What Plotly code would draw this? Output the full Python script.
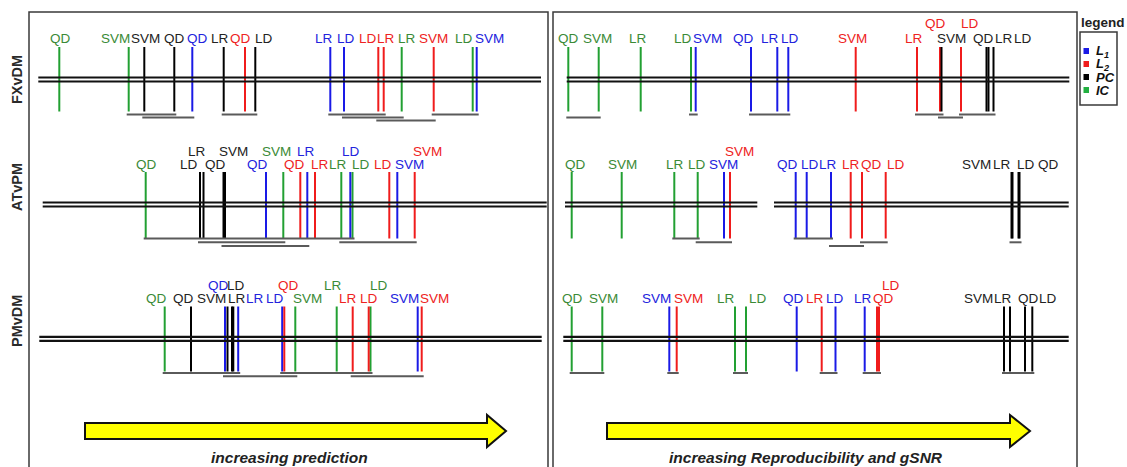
import plotly.graph_objects as go

# ---------------- DATA ----------------
# Each panel: method names, classifier family, score position on the axis,
# label anchor position, label tier (0 = lower row, 1 = upper row),
# and groups of methods that are not significantly different (start idx, end idx, tier).

FX_PRED_METHOD = ["QD", "SVM", "SVM", "QD", "QD", "LR", "QD", "LD", "LR", "LD", "LD", "LR", "LR", "SVM", "LD", "SVM"]
FX_PRED_CLASS = ["IC", "IC", "PC", "PC", "L1", "PC", "L2", "PC", "L1", "L1", "L2", "L2", "IC", "L2", "IC", "L1"]
FX_PRED_SCORE = [59.3, 128.7, 144.3, 174.3, 192.3, 223.7, 245.0, 255.3, 330.3, 344.0, 378.3, 383.7, 401.7, 433.7, 472.7, 476.7]
FX_PRED_LABEL = [60.0, 115.0, 145.7, 174.3, 197.5, 219.8, 240.5, 263.7, 323.8, 345.5, 368.3, 386.2, 407.2, 433.5, 463.8, 489.2]
FX_PRED_TIER = [0] * 16
FX_PRED_GROUPS = [(1, 3, 0), (2, 4, 1), (5, 7, 0), (8, 11, 0), (9, 12, 1), (10, 13, 2), (13, 15, 0)]

FX_REPR_METHOD = ["QD", "SVM", "LR", "LD", "SVM", "QD", "LR", "LD", "SVM", "LR", "QD", "SVM", "LD", "QD", "LR", "LD"]
FX_REPR_CLASS = ["IC", "IC", "IC", "IC", "L1", "L1", "L1", "L1", "L2", "L2", "L2", "PC", "L2", "PC", "PC", "PC"]
FX_REPR_SCORE = [568.3, 598.7, 640.7, 691.0, 695.7, 751.0, 777.3, 788.3, 855.7, 917.0, 940.0, 941.5, 961.0, 986.5, 988.5, 993.5]
FX_REPR_LABEL = [568.3, 597.5, 638.0, 683.0, 707.5, 743.5, 770.0, 790.3, 852.8, 913.5, 935.5, 951.3, 970.0, 983.3, 1003.7, 1023.3]
FX_REPR_TIER = [0, 0, 0, 0, 0, 0, 0, 0, 0, 0, 1, 0, 1, 0, 0, 0]
FX_REPR_GROUPS = [(0, 1, 1), (3, 4, 0), (5, 7, 0), (9, 11, 0), (10, 12, 1), (12, 15, 0)]

AT_PRED_METHOD = ["QD", "LD", "LR", "QD", "SVM", "QD", "SVM", "QD", "LR", "LR", "LR", "LD", "LD", "LD", "SVM", "SVM"]
AT_PRED_CLASS = ["IC", "PC", "PC", "PC", "PC", "L1", "IC", "L2", "L1", "L2", "IC", "L1", "IC", "L2", "L1", "L2"]
AT_PRED_SCORE = [145.7, 200.0, 203.5, 223.5, 225.0, 266.0, 283.3, 300.3, 307.3, 315.0, 341.3, 350.3, 352.5, 389.3, 397.3, 414.7]
AT_PRED_LABEL = [146.2, 189.2, 196.7, 215.5, 233.3, 257.8, 276.2, 294.5, 306.3, 319.5, 338.0, 350.5, 360.7, 382.5, 409.2, 427.5]
AT_PRED_TIER = [0, 0, 1, 0, 1, 0, 1, 0, 1, 0, 0, 1, 0, 0, 0, 1]
AT_PRED_GROUPS = [(0, 12, 0), (1, 6, 1), (3, 8, 2), (10, 15, 1)]

AT_REPR_METHOD = ["QD", "SVM", "LR", "LD", "SVM", "SVM", "QD", "LD", "LR", "LR", "QD", "LD", "SVM", "LR", "LD", "QD"]
AT_REPR_CLASS = ["IC", "IC", "IC", "IC", "L1", "L2", "L1", "L1", "L1", "L2", "L2", "L2", "PC", "PC", "PC", "PC"]
AT_REPR_SCORE = [571.7, 621.7, 674.3, 697.7, 724.0, 730.0, 795.7, 806.7, 831.0, 850.7, 862.0, 885.7, 1011.5, 1012.5, 1018.5, 1019.5]
AT_REPR_LABEL = [575.0, 622.2, 675.3, 696.7, 723.3, 739.5, 787.8, 810.3, 828.3, 851.0, 871.2, 895.5, 976.3, 1001.7, 1026.3, 1048.3]
AT_REPR_TIER = [0, 0, 0, 0, 0, 1, 0, 0, 0, 0, 0, 0, 0, 0, 0, 0]
AT_REPR_GROUPS = [(2, 3, 0), (3, 5, 1), (6, 8, 0), (8, 10, 2), (10, 11, 1), (12, 15, 1)]

PM_PRED_METHOD = ["QD", "QD", "QD", "SVM", "LR", "LD", "LR", "LD", "QD", "SVM", "LR", "LR", "LD", "LD", "SVM", "SVM"]
PM_PRED_CLASS = ["IC", "PC", "L1", "PC", "PC", "PC", "L1", "L1", "L2", "IC", "IC", "L2", "L2", "IC", "L1", "L2"]
PM_PRED_SCORE = [164.7, 191.0, 225.0, 227.5, 232.0, 233.3, 238.2, 282.2, 284.3, 295.3, 336.7, 352.7, 368.7, 370.5, 417.7, 421.7]
PM_PRED_LABEL = [156.2, 183.0, 218.0, 211.2, 237.0, 236.0, 254.5, 274.7, 288.8, 307.2, 333.3, 347.5, 368.7, 378.7, 404.2, 434.2]
PM_PRED_TIER = [0, 0, 1, 0, 0, 1, 0, 0, 1, 0, 1, 0, 0, 1, 0, 0]
PM_PRED_GROUPS = [(0, 6, 0), (2, 9, 1), (7, 13, 0), (11, 15, 1)]

PM_REPR_METHOD = ["QD", "SVM", "SVM", "SVM", "LR", "LD", "QD", "LR", "LD", "LR", "QD", "LD", "SVM", "LR", "QD", "LD"]
PM_REPR_CLASS = ["IC", "IC", "L1", "L2", "IC", "IC", "L1", "L2", "L1", "L1", "L2", "L2", "PC", "PC", "PC", "PC"]
PM_REPR_SCORE = [571.7, 602.3, 669.3, 676.7, 735.0, 746.0, 796.7, 821.7, 835.5, 864.7, 877.0, 879.0, 1004.0, 1010.0, 1025.0, 1032.3]
PM_REPR_LABEL = [572.2, 603.2, 656.3, 688.8, 725.8, 758.3, 793.0, 815.0, 834.5, 863.3, 883.0, 891.2, 978.3, 1003.3, 1028.0, 1048.0]
PM_REPR_TIER = [0, 0, 0, 0, 0, 0, 0, 0, 0, 0, 0, 1, 0, 0, 0, 0]
PM_REPR_GROUPS = [(0, 1, 0), (2, 3, 0), (4, 5, 0), (7, 8, 0), (9, 11, 0), (12, 15, 0)]

ROW_NAMES = ["FXvDM", "ATvPM", "PMvDM"]
PANEL_TITLES = ["increasing prediction", "increasing Reproducibility and gSNR"]
LEGEND_CLASSES = ["L1", "L2", "PC", "IC"]
LEGEND_TEXT = ["<b><i>L</i></b><sub><b><i>1</i></b></sub>", "<b><i>L</i></b><sub><b><i>2</i></b></sub>",
               "<b><i>PC</i></b>", "<b><i>IC</i></b>"]

# ---------------- STYLE / LAYOUT ----------------
W, H = 1127, 467
LINE_COL = {"L1": "#1a1ae6", "L2": "#f01c1c", "PC": "#000000", "IC": "#22a032"}
TEXT_COL = {"L1": "#2222dd", "L2": "#ee2222", "PC": "#222222", "IC": "#3a8a36"}
FONT = "Liberation Sans, Arial, sans-serif"

# per row: axis line y, vline top, vline bottom, label y (lower, upper), group bar base, bar step
ROWS = [
    dict(axis=79.5, top=47.0, bot=111.5, lab=(38.5, 23.5), bar=114.5, step=3.0),
    dict(axis=204.5, top=172.0, bot=238.5, lab=(164.0, 151.5), bar=238.5, step=3.8),
    dict(axis=338.8, top=306.5, bot=371.5, lab=(298.0, 285.0), bar=373.0, step=3.3),
]
# horizontal axis segments for each row: (left panel segments, right panel segments)
AXIS_SEGMENTS = [
    ([(38.3, 541.0)], [(566.7, 1069.3)]),
    ([(42.7, 546.7)], [(565.0, 757.3), (774.0, 1068.7)]),
    ([(39.3, 541.7)], [(563.3, 1068.7)]),
]

PANELS = [
    [(FX_PRED_METHOD, FX_PRED_CLASS, FX_PRED_SCORE, FX_PRED_LABEL, FX_PRED_TIER, FX_PRED_GROUPS),
     (FX_REPR_METHOD, FX_REPR_CLASS, FX_REPR_SCORE, FX_REPR_LABEL, FX_REPR_TIER, FX_REPR_GROUPS)],
    [(AT_PRED_METHOD, AT_PRED_CLASS, AT_PRED_SCORE, AT_PRED_LABEL, AT_PRED_TIER, AT_PRED_GROUPS),
     (AT_REPR_METHOD, AT_REPR_CLASS, AT_REPR_SCORE, AT_REPR_LABEL, AT_REPR_TIER, AT_REPR_GROUPS)],
    [(PM_PRED_METHOD, PM_PRED_CLASS, PM_PRED_SCORE, PM_PRED_LABEL, PM_PRED_TIER, PM_PRED_GROUPS),
     (PM_REPR_METHOD, PM_REPR_CLASS, PM_REPR_SCORE, PM_REPR_LABEL, PM_REPR_TIER, PM_REPR_GROUPS)],
]

fig = go.Figure()
annotations = []
shapes = []

# panel frames
for x0, x1 in [(29, 548), (553, 1077)]:
    shapes.append(dict(type="rect", xref="x", yref="y", x0=x0, x1=x1, y0=12, y1=470,
                       line=dict(color="#3a3a3a", width=1.5), fillcolor="rgba(0,0,0,0)", layer="below"))

# vertical marks per class
vx = {k: [] for k in LINE_COL}
vy = {k: [] for k in LINE_COL}
bx, by = [], []
for r, row in enumerate(PANELS):
    spec = ROWS[r]
    for methods, classes, scores, labx, tiers, groups in row:
        for m, c, s, lx, t in zip(methods, classes, scores, labx, tiers):
            vx[c] += [s, s, None]
            vy[c] += [spec["top"], spec["bot"], None]
            annotations.append(dict(x=lx, y=spec["lab"][t], xref="x", yref="y", text=m,
                                    showarrow=False, xanchor="center", yanchor="middle",
                                    font=dict(family=FONT, size=13.5, color=TEXT_COL[c])))
        for a, b, t in groups:
            yb = spec["bar"] + t * spec["step"]
            bx += [scores[a] - 2, scores[b] + 2, None]
            by += [yb, yb, None]

for c in ["IC", "L1", "L2", "PC"]:
    fig.add_trace(go.Scatter(x=vx[c], y=vy[c], mode="lines", hoverinfo="skip",
                             line=dict(color=LINE_COL[c], width=2), showlegend=False))

fig.add_trace(go.Scatter(x=bx, y=by, mode="lines", hoverinfo="skip",
                         line=dict(color="#5a5a5a", width=2), showlegend=False))

# double horizontal axis lines
hx, hy = [], []
for r, (left, right) in enumerate(AXIS_SEGMENTS):
    yc = ROWS[r]["axis"]
    for x0, x1 in left + right:
        for off in (-2.0, 2.0):
            hx += [x0, x1, None]
            hy += [yc + off, yc + off, None]
fig.add_trace(go.Scatter(x=hx, y=hy, mode="lines", hoverinfo="skip",
                         line=dict(color="#111111", width=2.2), showlegend=False))

# row names
for r, name in enumerate(ROW_NAMES):
    annotations.append(dict(x=17, y=[80, 187, 321][r], xref="x", yref="y", text=f"<b>{name}</b>",
                            showarrow=False, textangle=-90, xanchor="center", yanchor="middle",
                            font=dict(family=FONT, size=14.5, color="#2a2a2a")))

# arrows
for (x0, xb, xt), cx, title in [((85, 487, 506), 289, PANEL_TITLES[0]),
                                ((607, 1010, 1030), 806, PANEL_TITLES[1])]:
    path = (f"M {x0},423 L {xb},423 L {xb},415 L {xt},431 L {xb},447 "
            f"L {xb},439 L {x0},439 Z")
    shapes.append(dict(type="path", xref="x", yref="y", path=path, fillcolor="#ffff00",
                       line=dict(color="#111111", width=2)))
    annotations.append(dict(x=cx, y=457, xref="x", yref="y", text=f"<b><i>{title}</i></b>",
                            showarrow=False, xanchor="center", yanchor="middle",
                            font=dict(family=FONT, size=15.5, color="#222222")))

# legend
annotations.append(dict(x=1103, y=22, xref="x", yref="y", text="<b>legend</b>", showarrow=False,
                        xanchor="center", yanchor="middle",
                        font=dict(family=FONT, size=13.5, color="#222222")))
shapes.append(dict(type="rect", xref="x", yref="y", x0=1080, x1=1117, y0=32, y1=105,
                   line=dict(color="#3a3a3a", width=1.5), fillcolor="rgba(0,0,0,0)"))
for i, (c, txt) in enumerate(zip(LEGEND_CLASSES, LEGEND_TEXT)):
    yy = 51 + i * 13
    shapes.append(dict(type="rect", xref="x", yref="y", x0=1083.5, x1=1089, y0=yy - 3, y1=yy + 3,
                       line=dict(width=0), fillcolor=LINE_COL[c] if c != "IC" else "#22b040"))
    annotations.append(dict(x=1094, y=yy, xref="x", yref="y", text=txt, showarrow=False,
                            xanchor="left", yanchor="middle",
                            font=dict(family=FONT, size=13, color="#111111")))

fig.update_layout(
    width=W, height=H, autosize=False,
    margin=dict(l=0, r=0, t=0, b=0),
    paper_bgcolor="white", plot_bgcolor="white",
    xaxis=dict(range=[0, W], visible=False, fixedrange=True),
    yaxis=dict(range=[H, 0], visible=False, fixedrange=True),
    shapes=shapes, annotations=annotations, showlegend=False,
)

# remove the default page margin so the figure fills the window exactly
fig.write_html("out.html", config={"displayModeBar": False},
               post_script="document.body.style.margin='0';document.body.style.overflow='hidden';")
